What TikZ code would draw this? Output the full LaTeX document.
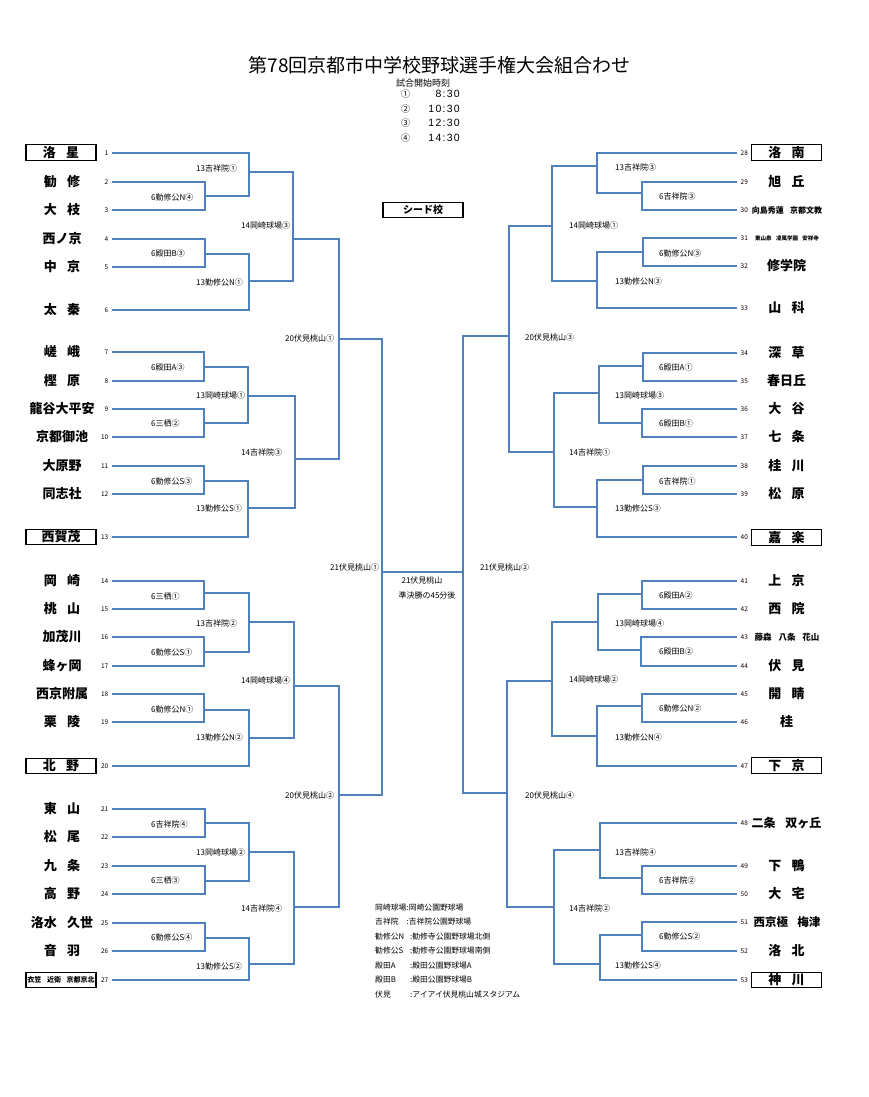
\documentclass[tikz,border=0pt]{standalone}
\usepackage{fontspec}
\setmainfont{Noto Sans CJK JP}
\newfontfamily\tmfont{Liberation Sans}[LetterSpace=12]
\usetikzlibrary{positioning}
\definecolor{brline}{RGB}{79,129,189}
\newcommand{\kk}{\hspace{0.8em}}

\begin{document}
\begin{tikzpicture}[x=1pt,y=-1pt,
  bk/.style={draw=brline, line width=1.3pt},
  num/.style={inner xsep=3.5pt, inner ysep=0.5pt, font=\fontsize{6.5}{6.5}\selectfont},
  nm/.style={inner sep=0pt, font=\fontsize{13}{13}\selectfont\bfseries},
  seed/.style={draw, line width=1.2pt, minimum width=70pt, minimum height=15.5pt, inner sep=0pt, font=\fontsize{13}{13}\selectfont\bfseries},
  rd/.style={anchor=west, inner sep=0pt, font=\fontsize{8}{8}\selectfont},
  lg/.style={anchor=west, inner sep=0pt, font=\fontsize{7.8}{7.8}\selectfont}]
\useasboundingbox (0,0) rectangle (869,1097);

% header
\node (title) at (439.5,65) {\fontsize{19}{19}\selectfont 第78回京都市中学校野球選手権大会組合わせ};
\node (stime) at (423,83) {\fontsize{9}{9}\selectfont 試合開始時刻};
\foreach \k/\y/\t in {①/94/8:30, ②/109/10:30, ③/123/12:30, ④/138/14:30}{
  \node[inner sep=0pt, font=\fontsize{9}{9}\selectfont] (k\y) at (405.7,\y) {\k};
  \node[anchor=east, inner sep=0pt, font=\tmfont\fontsize{10.5}{10.5}\selectfont] (tm\y) at (460,\y) {\t};
}
\node[draw, line width=1.2pt, minimum width=80pt, minimum height=15pt, inner sep=0pt,
  font=\fontsize{10}{10}\selectfont\bfseries] (seedkey) at (423,210) {シード校};

% team numbers
\foreach \n/\y in {1/153,2/182,3/210,4/239,5/267,6/310,7/352,8/381,9/409,10/437,11/466,12/494,13/537,
  14/581,15/609,16/637,17/666,18/694,19/722,20/766,21/809,22/837,23/866,24/894,25/923,26/951,27/980}
  \node[num, anchor=east] (n\n) at (112,\y) {\n};
\foreach \n/\y in {28/153,29/182,30/210,31/238,32/266,33/308,34/353,35/381,36/409,37/437,38/466,39/494,40/537,
  41/581,42/609,43/637,44/666,45/694,46/722,47/766,48/823,49/866,50/894,51/922,52/951,53/980}
  \node[num, anchor=west] (n\n) at (737,\y) {\n};

% team names, left
\foreach \n/\y/\s in {2/182/勧\kk 修, 3/210/大\kk 枝, 4/239/西ノ京, 5/267/中\kk 京, 6/310/太\kk 秦,
  7/352/嵯\kk 峨, 8/381/樫\kk 原, 9/409/龍谷大平安, 10/437/京都御池, 11/466/大原野, 12/494/同志社,
  14/581/岡\kk 崎, 15/609/桃\kk 山, 16/637/加茂川, 17/666/蜂ヶ岡, 18/694/西京附属, 19/722/栗\kk 陵,
  21/809/東\kk 山, 22/837/松\kk 尾, 23/866/九\kk 条, 24/894/高\kk 野, 25/923/洛水\kk 久世, 26/951/音\kk 羽}
  \node[nm] (t\n) at (62,\y) {\s};
\node[seed] (t1) at (61,152.5) {洛\kk 星};
\node[seed] (t13) at (61,537) {西賀茂};
\node[seed] (t20) at (61,766) {北\kk 野};
\node[seed, font=\fontsize{7}{7}\selectfont\bfseries] (t27) at (61,980) {衣笠\kk 近衛\kk 京都京北};

% team names, right
\foreach \n/\y/\s in {29/182/旭\kk 丘, 32/266/修学院, 33/308/山\kk 科, 34/353/深\kk 草, 35/381/春日丘,
  36/409/大\kk 谷, 37/437/七\kk 条, 38/466/桂\kk 川, 39/494/松\kk 原, 41/581/上\kk 京, 42/609/西\kk 院,
  44/666/伏\kk 見, 45/694/開\kk 睛, 46/722/桂, 49/866/下\kk 鴨, 50/894/大\kk 宅, 52/951/洛\kk 北}
  \node[nm] (t\n) at (786.5,\y) {\s};
\node[nm, font=\fontsize{8}{8}\selectfont\bfseries] (t30) at (787,210) {向島秀蓮\kk 京都文教};
\node[nm, font=\fontsize{5.5}{5.5}\selectfont\bfseries] (t31) at (787,238) {東山泉\kk 凌風学園\kk 安祥寺};
\node[nm, font=\fontsize{8.5}{8.5}\selectfont\bfseries] (t43) at (787,637) {藤森\kk 八条\kk 花山};
\node[nm, font=\fontsize{12}{12}\selectfont\bfseries] (t48) at (786.5,823) {二条\kk 双ヶ丘};
\node[nm, font=\fontsize{11.5}{11.5}\selectfont\bfseries] (t51) at (787,922) {西京極\kk 梅津};
\node[seed] (t28) at (786.5,152.5) {洛\kk 南};
\node[seed] (t40) at (786.5,537.5) {嘉\kk 楽};
\node[seed] (t47) at (786.5,765.5) {下\kk 京};
\node[seed] (t53) at (786.5,980) {神\kk 川};

% junctions
\foreach \c/\x/\y in {a1/205/196, a2/249/172, a3/205/254, a4/249/281, a5/293/239,
  b1/204/367, b2/204/423, b3/248/396, b4/204/481, b5/248/508, b6/295/459, q1/339/339,
  c1/204/593, c2/204/652, c3/249/622, c4/204/710, c5/249/738, c6/294/686,
  d1/205/823, d2/205/881, d3/249/852, d4/205/938, d5/249/964, d6/294/907, q2/339/795, s1/382/572,
  e1/642/193, e2/597/166, e3/643/252, e4/597/281, e5/552/226,
  f1/643/366, f2/642/423, f3/599/393, f4/643/480, f5/597/507, f6/554/452, q3/509/336,
  g1/642/594, g2/641/650, g3/598/622, g4/642/706, g5/597/736, g6/552/681,
  h1/642/878, h2/600/850, h3/642/935, h4/600/964, h5/554/907, q4/507/793, s2/463/572}
  \coordinate (\c) at (\x,\y);

% left bracket
\draw[bk] (n2.east) -| (a1) |- (n3.east);
\draw[bk] (n1.east) -| (a2) |- (a1);
\draw[bk] (n4.east) -| (a3) |- (n5.east);
\draw[bk] (a3) -| (a4) |- (n6.east);
\draw[bk] (a2) -| (a5) |- (a4);
\draw[bk] (n7.east) -| (b1) |- (n8.east);
\draw[bk] (n9.east) -| (b2) |- (n10.east);
\draw[bk] (b1) -| (b3) |- (b2);
\draw[bk] (n11.east) -| (b4) |- (n12.east);
\draw[bk] (b4) -| (b5) |- (n13.east);
\draw[bk] (b3) -| (b6) |- (b5);
\draw[bk] (a5) -| (q1) |- (b6);
\draw[bk] (n14.east) -| (c1) |- (n15.east);
\draw[bk] (n16.east) -| (c2) |- (n17.east);
\draw[bk] (c1) -| (c3) |- (c2);
\draw[bk] (n18.east) -| (c4) |- (n19.east);
\draw[bk] (c4) -| (c5) |- (n20.east);
\draw[bk] (c3) -| (c6) |- (c5);
\draw[bk] (n21.east) -| (d1) |- (n22.east);
\draw[bk] (n23.east) -| (d2) |- (n24.east);
\draw[bk] (d1) -| (d3) |- (d2);
\draw[bk] (n25.east) -| (d4) |- (n26.east);
\draw[bk] (d4) -| (d5) |- (n27.east);
\draw[bk] (d3) -| (d6) |- (d5);
\draw[bk] (c6) -| (q2) |- (d6);
\draw[bk] (q1) -| (s1) |- (q2);

% right bracket
\draw[bk] (n29.west) -| (e1) |- (n30.west);
\draw[bk] (n28.west) -| (e2) |- (e1);
\draw[bk] (n31.west) -| (e3) |- (n32.west);
\draw[bk] (e3) -| (e4) |- (n33.west);
\draw[bk] (e2) -| (e5) |- (e4);
\draw[bk] (n34.west) -| (f1) |- (n35.west);
\draw[bk] (n36.west) -| (f2) |- (n37.west);
\draw[bk] (f1) -| (f3) |- (f2);
\draw[bk] (n38.west) -| (f4) |- (n39.west);
\draw[bk] (f4) -| (f5) |- (n40.west);
\draw[bk] (f3) -| (f6) |- (f5);
\draw[bk] (e5) -| (q3) |- (f6);
\draw[bk] (n41.west) -| (g1) |- (n42.west);
\draw[bk] (n43.west) -| (g2) |- (n44.west);
\draw[bk] (g1) -| (g3) |- (g2);
\draw[bk] (n45.west) -| (g4) |- (n46.west);
\draw[bk] (g4) -| (g5) |- (n47.west);
\draw[bk] (g3) -| (g6) |- (g5);
\draw[bk] (n49.west) -| (h1) |- (n50.west);
\draw[bk] (n48.west) -| (h2) |- (h1);
\draw[bk] (n51.west) -| (h3) |- (n52.west);
\draw[bk] (h3) -| (h4) |- (n53.west);
\draw[bk] (h2) -| (h5) |- (h4);
\draw[bk] (g6) -| (q4) |- (h5);
\draw[bk] (q3) -| (s2) |- (q4);

% final
\draw[bk] (s1) -- (s2);
\node[inner sep=0pt, font=\fontsize{8}{8}\selectfont] (fin) at (422,580) {21伏見桃山};
\node[inner sep=0pt, font=\fontsize{8}{8}\selectfont] (fintime) at (427,595) {準決勝の45分後};

% round labels, left
\node[rd] (la1) at (151,197) {6勤修公N④};
\node[rd] (la2) at (196,168) {13吉祥院①};
\node[rd] (la3) at (151,253) {6殿田B③};
\node[rd] (la4) at (196,282) {13勤修公N①};
\node[rd] (la5) at (241,225) {14岡崎球場③};
\node[rd] (lb1) at (151,367) {6殿田A③};
\node[rd] (lb2) at (151,423) {6三栖②};
\node[rd] (lb3) at (196,395) {13岡崎球場①};
\node[rd] (lb4) at (151,481) {6勤修公S③};
\node[rd] (lb5) at (196,508) {13勤修公S①};
\node[rd] (lb6) at (241,452) {14吉祥院③};
\node[rd] (lq1) at (285,338) {20伏見桃山①};
\node[rd] (lc1) at (151,596) {6三栖①};
\node[rd] (lc2) at (151,652) {6勤修公S①};
\node[rd] (lc3) at (196,623) {13吉祥院②};
\node[rd] (lc4) at (151,709) {6勤修公N①};
\node[rd] (lc5) at (196,737) {13勤修公N②};
\node[rd] (lc6) at (241,680) {14岡崎球場④};
\node[rd] (ld1) at (151,824) {6吉祥院④};
\node[rd] (ld2) at (151,880) {6三栖③};
\node[rd] (ld3) at (196,852) {13岡崎球場②};
\node[rd] (ld4) at (151,937) {6勤修公S④};
\node[rd] (ld5) at (196,966) {13勤修公S②};
\node[rd] (ld6) at (241,908) {14吉祥院④};
\node[rd] (lq2) at (285,795) {20伏見桃山②};
\node[rd] (ls1) at (330,567) {21伏見桃山①};

% round labels, right
\node[rd] (le1) at (659,196) {6吉祥院③};
\node[rd] (le2) at (615,167) {13吉祥院③};
\node[rd] (le3) at (659,253) {6勤修公N③};
\node[rd] (le4) at (615,281) {13勤修公N③};
\node[rd] (le5) at (569,225) {14岡崎球場①};
\node[rd] (lf1) at (659,367) {6殿田A①};
\node[rd] (lf2) at (659,423) {6殿田B①};
\node[rd] (lf3) at (615,395) {13岡崎球場③};
\node[rd] (lf4) at (659,481) {6吉祥院①};
\node[rd] (lf5) at (615,508) {13勤修公S③};
\node[rd] (lf6) at (569,452) {14吉祥院①};
\node[rd] (lq3) at (525,337) {20伏見桃山③};
\node[rd] (lg1) at (659,595) {6殿田A②};
\node[rd] (lg2) at (659,651) {6殿田B②};
\node[rd] (lg3) at (615,623) {13岡崎球場④};
\node[rd] (lg4) at (659,708) {6勤修公N②};
\node[rd] (lg5) at (615,737) {13勤修公N④};
\node[rd] (lg6) at (569,679) {14岡崎球場②};
\node[rd] (lh1) at (659,880) {6吉祥院②};
\node[rd] (lh2) at (615,852) {13吉祥院④};
\node[rd] (lh3) at (659,936) {6勤修公S②};
\node[rd] (lh4) at (615,965) {13勤修公S④};
\node[rd] (lh5) at (569,908) {14吉祥院②};
\node[rd] (lq4) at (525,795) {20伏見桃山④};
\node[rd] (ls2) at (480,567) {21伏見桃山②};

% legend
\node[lg] (key1) at (375,908) {\makebox[31.5pt][l]{岡崎球場}:岡崎公園野球場};
\node[lg] (key2) at (375,922) {\makebox[31.5pt][l]{吉祥院}:吉祥院公園野球場};
\node[lg] (key3) at (375,937) {\makebox[35pt][l]{勧修公N}:勧修寺公園野球場北側};
\node[lg] (key4) at (375,951) {\makebox[35pt][l]{勧修公S}:勧修寺公園野球場南側};
\node[lg] (key5) at (375,966) {\makebox[35pt][l]{殿田A}:殿田公園野球場A};
\node[lg] (key6) at (375,980) {\makebox[35pt][l]{殿田B}:殿田公園野球場B};
\node[lg] (key7) at (375,995) {\makebox[35pt][l]{伏見}:アイアイ伏見桃山城スタジアム};
\end{tikzpicture}
\end{document}
